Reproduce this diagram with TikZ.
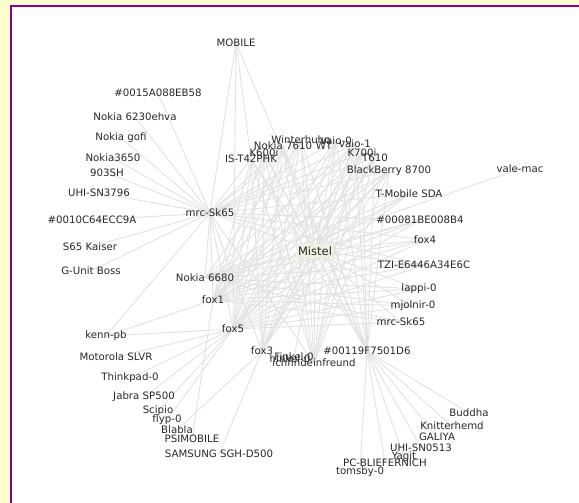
\documentclass[tikz,border=0pt]{standalone}
\usepackage{fontspec}
\setmainfont{DejaVu Sans}
\definecolor{bgyellow}{RGB}{255,255,206}
\definecolor{framepurple}{RGB}{140,0,140}
\definecolor{edgegray}{RGB}{226,226,226}
\definecolor{labelgray}{RGB}{40,40,40}
\definecolor{mistelbg}{RGB}{240,240,224}
\pgfdeclarelayer{bg}
\pgfdeclarelayer{edges}
\pgfsetlayers{bg,edges,main}
\begin{document}
\begin{tikzpicture}[x=1pt,y=-1pt,
  edge/.style={draw=edgegray,line width=0.9pt},
  lbl/.style={font=\fontsize{10.2}{12}\selectfont, text=labelgray, inner sep=0pt},
  hub/.style={lbl, font=\fontsize{11.5}{13}\selectfont, fill=mistelbg, inner xsep=2pt, inner ysep=2.5pt}]
\useasboundingbox (0,0) rectangle (579,503);
\begin{pgfonlayer}{bg}
\fill[bgyellow] (0,0) rectangle (579,503);
\fill[white] (11,5.7) rectangle (579,503);
\draw[framepurple,line width=2.2pt] (11,503) -- (11,5.7) -- (579,5.7);
\end{pgfonlayer}
% labels
\node[lbl] (mobile) at (236,43) {MOBILE};
\node[lbl] (n0015) at (158,93) {\#0015A088EB58};
\node[lbl] (n6230) at (135,117) {Nokia 6230ehva};
\node[lbl] (gofi) at (121,138) {Nokia gofi};
\node[lbl] (n3650) at (113,158) {Nokia3650};
\node[lbl] (sh903) at (107,173) {903SH};
\node[lbl] (uhi3796) at (99,193) {UHI-SN3796};
\node[lbl] (mrcL) at (210,213) {mrc-Sk65};
\node[lbl] (n0010) at (92,220) {\#0010C64ECC9A};
\node[lbl] (s65) at (90,247) {S65 Kaiser};
\node[lbl] (gunit) at (91,271) {G-Unit Boss};
\node[lbl] (ist42) at (251,159) {IS-T42PHK};
\node[lbl] (k600) at (264,153) {K600i};
\node[lbl] (n7610) at (283,146) {Nokia 7610};
\node[lbl] (winter) at (301,140) {Winterhuhn};
\node[lbl] (wt) at (324,146) {WT};
\node[lbl] (vaio0) at (336,141) {vaio-0};
\node[lbl] (vaio1) at (355,144) {vaio-1};
\node[lbl] (k700) at (362,153) {K700i};
\node[lbl] (t610) at (375,158) {T610};
\node[lbl] (bb8700) at (389,171) {BlackBerry 8700};
\node[lbl] (valemac) at (520,169) {vale-mac};
\node[lbl] (tmobile) at (409,194) {T-Mobile SDA};
\node[lbl] (n00081) at (420,220) {\#00081BE008B4};
\node[lbl] (fox4) at (425,240) {fox4};
\node[hub] (mistel) at (315,251) {Mistel};
\node[lbl] (tzi) at (424,265) {TZI-E6446A34E6C};
\node[lbl] (lappi) at (419,289) {lappi-0};
\node[lbl] (mjolnir) at (413,306) {mjolnir-0};
\node[lbl] (mrcR) at (401,322) {mrc-Sk65};
\node[lbl] (n6680) at (205,278) {Nokia 6680};
\node[lbl] (fox1) at (213,300) {fox1};
\node[lbl] (fox5) at (233,329) {fox5};
\node[lbl] (fox3) at (262,351) {fox3};
\node[lbl] (hinkel) at (290,359) {hinkel-0};
\node[lbl] (finkel) at (294,357) {Finkel-0};
\node[lbl] (ichfind) at (314,363) {ichfindeinfreund};
\node[lbl] (n00119) at (367,351) {\#00119F7501D6};
\node[lbl] (kenn) at (106,336) {kenn-pb};
\node[lbl] (motorola) at (116,357) {Motorola SLVR};
\node[lbl] (thinkpad) at (130,378) {Thinkpad-0};
\node[lbl] (jabra) at (144,397) {Jabra SP500};
\node[lbl] (scipio) at (158,411) {Scipio};
\node[lbl] (flyp) at (167,420) {flyp-0};
\node[lbl] (blabla) at (177,430) {Blabla};
\node[lbl] (psimobile) at (192,439) {PSIMOBILE};
\node[lbl] (samsung) at (219,454) {SAMSUNG SGH-D500};
\node[lbl] (buddha) at (469,413) {Buddha};
\node[lbl] (knitter) at (452,426) {Knitterhemd};
\node[lbl] (galiya) at (437,437) {GALIYA};
\node[lbl] (uhi0513) at (421,448) {UHI-SN0513};
\node[lbl] (yagit) at (404,457) {Yagit};
\node[lbl] (pcblief) at (385,463) {PC-BLIEFERNICH};
\node[lbl] (tomsby) at (360,472) {tomsby-0};
% edges
\begin{pgfonlayer}{edges}
\foreach \a/\b in {mobile/mrcL, mobile/fox5, mobile/n00119, mobile/ist42,
  n0015/mrcL, n6230/mrcL, gofi/mrcL, n3650/mrcL, sh903/mrcL, uhi3796/mrcL,
  n0010/mrcL, s65/mrcL, gunit/mrcL, kenn/mrcL,
  kenn/fox5, kenn/fox1, motorola/fox5, thinkpad/fox5, jabra/fox5, scipio/fox5,
  flyp/fox5, blabla/fox3, psimobile/fox1, samsung/fox3,
  n00119/buddha, n00119/knitter, n00119/galiya, n00119/uhi0513, n00119/yagit,
  n00119/pcblief, n00119/tomsby, valemac/n6680,
  mrcL/n6680, mrcL/fox1, mrcL/fox5, mrcL/fox3, mrcL/ichfind}
  \draw[edge] (\a.center) -- (\b.center);
\foreach \a in {mrcL, ist42, k600, n7610, winter, vaio0, vaio1, k700, t610, bb8700,
  tmobile, n00081, fox4, tzi, lappi, mjolnir, mrcR, n6680, fox1, fox5, fox3,
  finkel, ichfind, n00119}
  \draw[edge] (mistel.center) -- (\a.center);
\foreach \a in {ist42, k600, n7610, winter, vaio0, vaio1, k700, t610, bb8700}
  \foreach \b in {fox1, fox5, fox3, ichfind, n00119}
    \draw[edge] (\a.center) -- (\b.center);
\foreach \b in {ist42, n7610, winter, vaio0, vaio1, k700, t610, bb8700, tmobile,
  n00081, fox4, tzi}
  \draw[edge] (mrcL.center) -- (\b.center);
\foreach \a in {tmobile, n00081, fox4, tzi, lappi, mjolnir, mrcR}
  \foreach \b in {fox1, fox5, n6680}
    \draw[edge] (\a.center) -- (\b.center);
\foreach \b in {winter, vaio1, bb8700}
  \draw[edge] (n6680.center) -- (\b.center);
\end{pgfonlayer}
\end{tikzpicture}
\end{document}
